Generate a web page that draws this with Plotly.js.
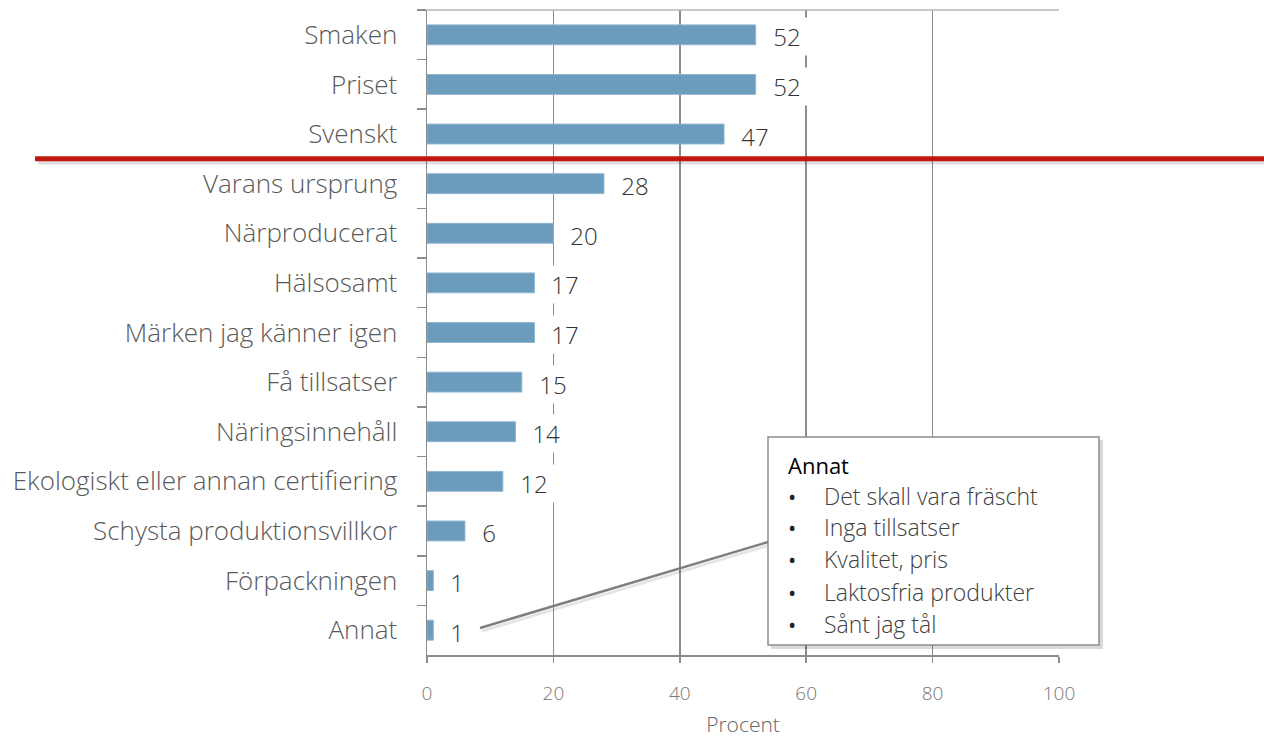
<!DOCTYPE html>
<html>
<head>
<meta charset="utf-8">
<script src="https://cdn.plot.ly/plotly-3.0.1.min.js"></script>
<style>html,body{margin:0;padding:0;background:#fff;}#chart{width:1264px;height:738px;}</style>
</head>
<body>
<div id="chart"></div>
<script>
const categories = ["Smaken","Priset","Svenskt","Varans ursprung","Närproducerat","Hälsosamt","Märken jag känner igen","Få tillsatser","Näringsinnehåll","Ekologiskt eller annan certifiering","Schysta produktionsvillkor","Förpackningen","Annat"];
const values = [52,52,47,28,20,17,17,15,14,12,6,1,1];
const boxTitle = "Annat";
const boxItems = ["Det skall vara fräscht","Inga tillsatser","Kvalitet, pris","Laktosfria produkter","Sånt jag tål"];
const xTicks = [0,20,40,60,80,100];
const xTitle = "Procent";

const FONT = "Open Sans";
const W = 1264, H = 738, L = 427, R = 205, T = 10, B = 83;
const pw = W - L - R, ph = H - T - B;
const px = x => (x - L) / pw;
const py = y => (H - B - y) / ph;

const trace = {
  type: 'bar', orientation: 'h',
  x: values, y: categories,
  width: 0.4,
  marker: {color: '#6b9bbd', line: {color: '#8fb4d0', width: 1}},
  hoverinfo: 'none'
};

const annotations = values.map((v, i) => ({
  x: v, y: categories[i], xref: 'x', yref: 'y',
  text: '\u00a0' + String(v) + '\u00a0', showarrow: false,
  xanchor: 'left', yanchor: 'middle', xshift: 8, yshift: -2,
  bgcolor: '#ffffff', borderpad: 2,
  font: {family: FONT, size: 24, color: '#333', weight: 300}
}));

annotations.push({
  xref: 'paper', yref: 'paper', x: px(786), y: py(465),
  xanchor: 'left', yanchor: 'middle', showarrow: false,
  text: boxTitle, font: {family: FONT, size: 22, color: '#000'}
});
const lineY = [496, 527, 559, 592, 624];
boxItems.forEach((t, i) => {
  annotations.push({
    xref: 'paper', yref: 'paper', x: px(786), y: py(lineY[i]),
    xanchor: 'left', yanchor: 'middle', showarrow: false,
    text: '•', font: {family: FONT, size: 22, color: '#222'}
  });
  annotations.push({
    xref: 'paper', yref: 'paper', x: px(822), y: py(lineY[i]),
    xanchor: 'left', yanchor: 'middle', showarrow: false,
    text: t, font: {family: FONT, size: 23, color: '#404040', weight: 300}
  });
});

const shapes = [
  {type: 'line', xref: 'x', yref: 'paper', x0: 0, x1: 100, y0: 1, y1: 1, line: {color: '#b5b5b5', width: 1.5}},
  {type: 'line', xref: 'paper', yref: 'paper', x0: px(38), x1: px(1264), y0: py(162), y1: py(162), line: {color: 'rgba(0,0,0,0.12)', width: 5}},
  {type: 'line', xref: 'paper', yref: 'y', x0: px(35), x1: px(1264), y0: 2.5, y1: 2.5, line: {color: '#c0180c', width: 5}},
  {type: 'line', xref: 'paper', yref: 'paper', x0: px(482), y0: py(631), x1: px(770), y1: py(545), line: {color: 'rgba(0,0,0,0.10)', width: 3}},
  {type: 'line', xref: 'paper', yref: 'paper', x0: px(480), y0: py(628), x1: px(768), y1: py(542), line: {color: '#7f7f7f', width: 2.5}},
  {type: 'rect', xref: 'paper', yref: 'paper', x0: px(771), x1: px(1103), y0: py(649), y1: py(440), fillcolor: 'rgba(0,0,0,0.15)', line: {width: 0}},
  {type: 'rect', xref: 'paper', yref: 'paper', x0: px(768), x1: px(1099), y0: py(645), y1: py(437), fillcolor: '#ffffff', line: {color: '#8c8c8c', width: 1.5}}
];

const layout = {
  width: W, height: H,
  margin: {l: L, r: R, t: T, b: B, pad: 0},
  paper_bgcolor: '#fff', plot_bgcolor: '#fff',
  showlegend: false,
  xaxis: {
    range: [0, 100], tickvals: xTicks, ticktext: xTicks.map(String),
    showgrid: true, gridcolor: '#8c8c8c', gridwidth: 1.5,
    zeroline: false,
    showline: true, linecolor: '#8c8c8c', linewidth: 1.5,
    ticks: 'outside', ticklen: 6, tickcolor: '#8c8c8c', tickwidth: 1.5,
    ticklabelstandoff: 15,
    tickfont: {family: FONT, size: 19, color: '#777', weight: 300},
    title: {text: xTitle, font: {family: FONT, size: 21, color: '#666', weight: 300}, standoff: 15},
    fixedrange: true
  },
  yaxis: {
    type: 'category', categoryorder: 'array', categoryarray: categories,
    range: [12.5, -0.5],
    showgrid: false, zeroline: false,
    showline: true, linecolor: '#8c8c8c', linewidth: 1.5,
    ticks: 'outside', tickson: 'boundaries', ticklen: 9, tickcolor: '#8c8c8c', tickwidth: 1.5,
    ticklabelstandoff: 23,
    tickfont: {family: FONT, size: 26, color: '#595959', weight: 300},
    fixedrange: true
  },
  annotations: annotations,
  shapes: shapes
};

Plotly.newPlot('chart', [trace], layout, {displayModeBar: false, staticPlot: true});
</script>
</body>
</html>
